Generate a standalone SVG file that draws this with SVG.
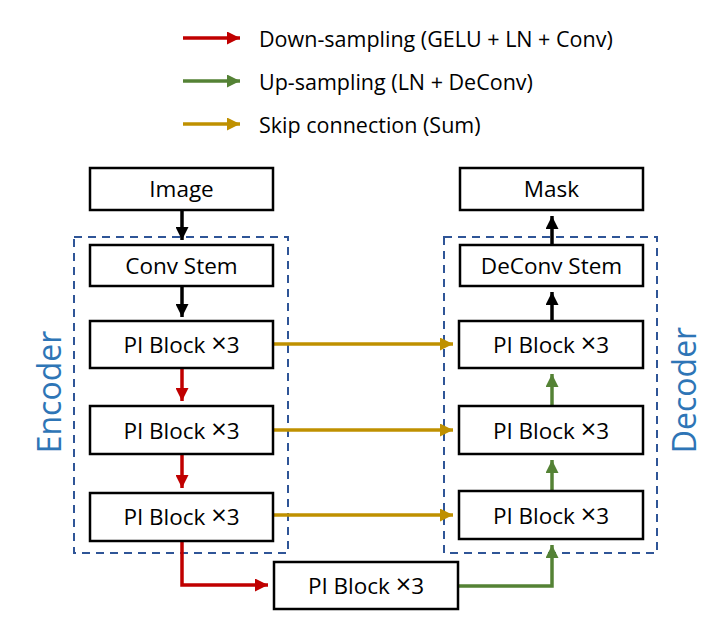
<svg xmlns="http://www.w3.org/2000/svg" width="720" height="629" viewBox="0 0 720 629">
<style>
.box{fill:#ffffff;stroke:#000000;stroke-width:2.5}
.lbl{font-family:"Open Sans","Liberation Sans",sans-serif;font-size:22.5px;fill:#000000;text-anchor:middle}
.x{font-size:27px}
.leg{font-family:"Open Sans","Liberation Sans",sans-serif;font-size:21.5px;fill:#000000}
.grp{fill:none;stroke:#2f5597;stroke-width:2;stroke-dasharray:8,6}
.side{font-family:"Open Sans","Liberation Sans",sans-serif;font-size:32px;fill:#2e75b6;text-anchor:middle}
.k{fill:none;stroke:#000000;stroke-width:3.5}
.r{fill:none;stroke:#c00000;stroke-width:3.5}
.g{fill:none;stroke:#548235;stroke-width:3.5}
.y{fill:none;stroke:#bf9000;stroke-width:3.5}
</style>
<defs>
<marker id="ak" viewBox="0 0 10 10" refX="10" refY="5" markerWidth="13" markerHeight="13" markerUnits="userSpaceOnUse" orient="auto"><path d="M0,0 L10,5 L0,10 z" fill="#000000"/></marker>
<marker id="ar" viewBox="0 0 10 10" refX="10" refY="5" markerWidth="13" markerHeight="13" markerUnits="userSpaceOnUse" orient="auto"><path d="M0,0 L10,5 L0,10 z" fill="#c00000"/></marker>
<marker id="ag" viewBox="0 0 10 10" refX="10" refY="5" markerWidth="13" markerHeight="13" markerUnits="userSpaceOnUse" orient="auto"><path d="M0,0 L10,5 L0,10 z" fill="#548235"/></marker>
<marker id="ay" viewBox="0 0 10 10" refX="10" refY="5" markerWidth="13" markerHeight="13" markerUnits="userSpaceOnUse" orient="auto"><path d="M0,0 L10,5 L0,10 z" fill="#bf9000"/></marker>
</defs>

<g id="legend">
<line class="r" x1="183" y1="38" x2="240" y2="38" marker-end="url(#ar)"/>
<text class="leg" x="259" y="47">Down-sampling (GELU + LN + Conv)</text>
<line class="g" x1="183" y1="81" x2="240" y2="81" marker-end="url(#ag)"/>
<text class="leg" x="259" y="90">Up-sampling (LN + DeConv)</text>
<line class="y" x1="183" y1="124" x2="240" y2="124" marker-end="url(#ay)"/>
<text class="leg" x="259" y="133">Skip connection (Sum)</text>
</g>

<g id="encoder">
<rect class="grp" x="74" y="237" width="214" height="316"/>
<text class="side" transform="translate(61,392) rotate(-90)">Encoder</text>
</g>
<g id="decoder">
<rect class="grp" x="444" y="237" width="213" height="316"/>
<text class="side" transform="translate(696,390) rotate(-90)">Decoder</text>
</g>

<g id="connectors">
<line class="k" x1="182" y1="210" x2="182" y2="240" marker-end="url(#ak)"/>
<line class="k" x1="182" y1="286" x2="182" y2="317" marker-end="url(#ak)"/>
<line class="r" x1="182" y1="368" x2="182" y2="401" marker-end="url(#ar)"/>
<line class="r" x1="182" y1="454" x2="182" y2="488" marker-end="url(#ar)"/>
<polyline class="r" points="182,541 182,585 268,585" marker-end="url(#ar)"/>
<polyline class="g" points="458,586 552,586 552,545" marker-end="url(#ag)"/>
<line class="g" x1="552" y1="491" x2="552" y2="460" marker-end="url(#ag)"/>
<line class="g" x1="552" y1="406" x2="552" y2="374" marker-end="url(#ag)"/>
<line class="k" x1="552" y1="321" x2="552" y2="292" marker-end="url(#ak)"/>
<line class="k" x1="552" y1="245" x2="552" y2="216" marker-end="url(#ak)"/>
<line class="y" x1="273" y1="344" x2="453" y2="344" marker-end="url(#ay)"/>
<line class="y" x1="273" y1="430" x2="453" y2="430" marker-end="url(#ay)"/>
<line class="y" x1="273" y1="515" x2="453" y2="515" marker-end="url(#ay)"/>
</g>

<g id="image"><rect class="box" x="90" y="168" width="183" height="42"/><text class="lbl" x="181.5" y="197">Image</text></g>
<g id="conv-stem"><rect class="box" x="90" y="245" width="183" height="41"/><text class="lbl" x="181.5" y="274">Conv Stem</text></g>
<g id="enc-pi1"><rect class="box" x="90" y="321" width="183" height="47"/><text class="lbl" x="181.5" y="353">PI Block <tspan class="x">×</tspan>3</text></g>
<g id="enc-pi2"><rect class="box" x="90" y="406" width="183" height="48"/><text class="lbl" x="181.5" y="439">PI Block <tspan class="x">×</tspan>3</text></g>
<g id="enc-pi3"><rect class="box" x="90" y="493" width="183" height="48"/><text class="lbl" x="181.5" y="525">PI Block <tspan class="x">×</tspan>3</text></g>
<g id="bottleneck"><rect class="box" x="274" y="562" width="184" height="47"/><text class="lbl" x="366" y="594">PI Block <tspan class="x">×</tspan>3</text></g>
<g id="mask"><rect class="box" x="460" y="168" width="183" height="42"/><text class="lbl" x="551.5" y="197">Mask</text></g>
<g id="deconv-stem"><rect class="box" x="460" y="245" width="183" height="41"/><text class="lbl" x="551.5" y="274">DeConv Stem</text></g>
<g id="dec-pi1"><rect class="box" x="459" y="321" width="184" height="47"/><text class="lbl" x="551" y="353">PI Block <tspan class="x">×</tspan>3</text></g>
<g id="dec-pi2"><rect class="box" x="459" y="406" width="184" height="48"/><text class="lbl" x="551" y="439">PI Block <tspan class="x">×</tspan>3</text></g>
<g id="dec-pi3"><rect class="box" x="459" y="491" width="184" height="48"/><text class="lbl" x="551" y="524">PI Block <tspan class="x">×</tspan>3</text></g>
</svg>
